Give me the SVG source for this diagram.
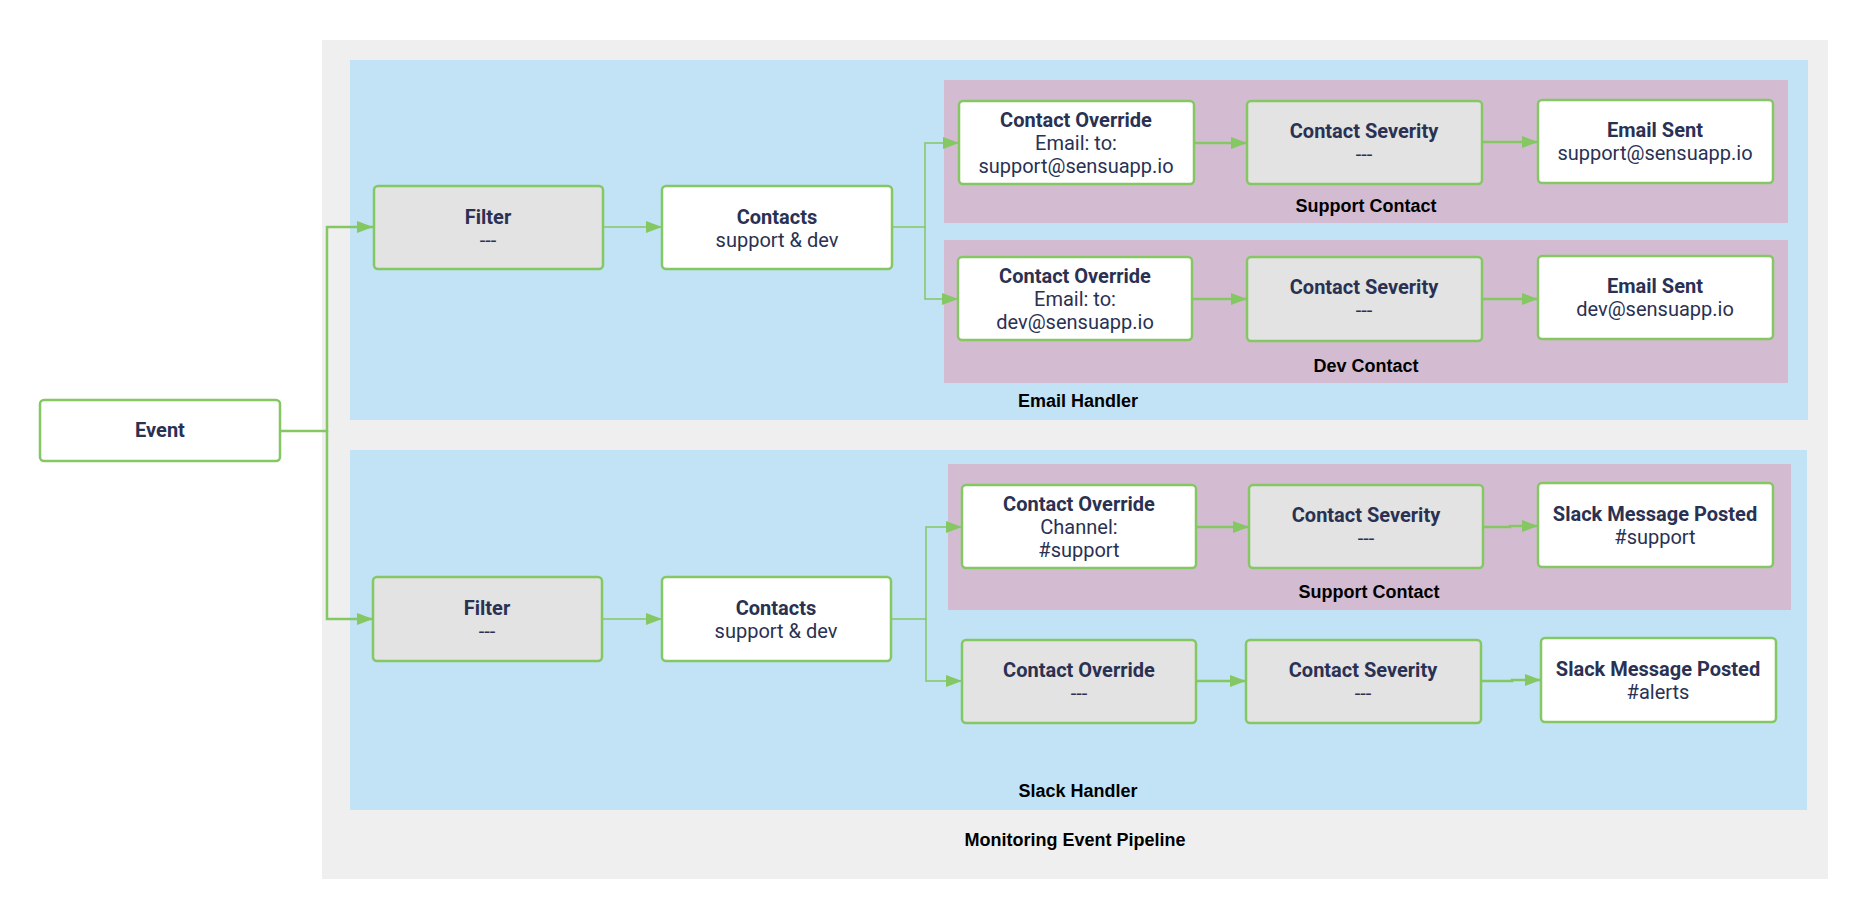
<svg xmlns="http://www.w3.org/2000/svg" width="1868" height="920" viewBox="0 0 1868 920">
<defs>
<style>
.grp{font-family:"Liberation Sans",Arial,sans-serif;font-weight:bold;font-size:18px;fill:#000;text-anchor:middle}
.node rect{stroke:#84c763;stroke-width:2.5}
.w{fill:#ffffff}
.g{fill:#e3e3e3}
.t{font-family:Roboto,"Liberation Sans",sans-serif;font-size:20px;fill:#2a3152;text-anchor:middle}
.b{font-weight:bold}
.c{fill:none;stroke:#84c763}
.thick{stroke-width:2.5}
.thin{stroke-width:1.5}
</style>
<marker id="arr" viewBox="0 0 16 12" refX="16" refY="6" markerWidth="16" markerHeight="12" markerUnits="userSpaceOnUse" orient="auto">
<path d="M0,0 L16,6 L0,12 Z" fill="#84c763"/>
</marker>
</defs>
<rect width="1868" height="920" fill="#ffffff"/>
<g id="clusters">
<rect x="322" y="40" width="1506" height="839" fill="#efefef"/>
<text class="grp" x="1075" y="846">Monitoring Event Pipeline</text>
<rect x="350" y="60" width="1458" height="360" fill="#c1e3f5"/>
<text class="grp" x="1078" y="407">Email Handler</text>
<rect x="350" y="450" width="1457" height="360" fill="#c1e3f5"/>
<text class="grp" x="1078" y="797">Slack Handler</text>
<rect x="944" y="80" width="844" height="143" fill="#d3bcd2"/>
<text class="grp" x="1366" y="212">Support Contact</text>
<rect x="944" y="240" width="844" height="143" fill="#d3bcd2"/>
<text class="grp" x="1366" y="372">Dev Contact</text>
<rect x="948" y="464" width="843" height="146" fill="#d3bcd2"/>
<text class="grp" x="1369" y="598">Support Contact</text>
</g>
<g id="connectors">
<path class="c thick" d="M280,431 H327 V227 H373" marker-end="url(#arr)"/>
<path class="c thick" d="M327,431 V619 H373" marker-end="url(#arr)"/>
<path class="c thin" d="M603,227 H662" marker-end="url(#arr)"/>
<path class="c thin" d="M602,619 H662" marker-end="url(#arr)"/>
<path class="c thin" d="M892,227 H925 V143 H959" marker-end="url(#arr)"/>
<path class="c thin" d="M925,227 V299 H958" marker-end="url(#arr)"/>
<path class="c thin" d="M891,619 H926 V527 H962" marker-end="url(#arr)"/>
<path class="c thin" d="M926,619 V681 H962" marker-end="url(#arr)"/>
<path class="c thick" d="M1194,143 H1247" marker-end="url(#arr)"/>
<path class="c thick" d="M1482,142 H1538" marker-end="url(#arr)"/>
<path class="c thick" d="M1192,299 H1247" marker-end="url(#arr)"/>
<path class="c thick" d="M1482,299 H1538" marker-end="url(#arr)"/>
<path class="c thick" d="M1196,527 H1249" marker-end="url(#arr)"/>
<path class="c thick" d="M1483,527 H1510 V526 H1538" marker-end="url(#arr)"/>
<path class="c thick" d="M1196,681 H1246" marker-end="url(#arr)"/>
<path class="c thick" d="M1481,681 H1512 V680 H1541" marker-end="url(#arr)"/>
</g>
<g id="event" class="node"><rect class="w" x="40" y="400" width="240" height="61" rx="4"/><text class="t b" x="160" y="437">Event</text></g>
<g id="filter-email" class="node"><rect class="g" x="374" y="186" width="229" height="83" rx="4"/><text class="t b" x="488" y="224">Filter</text><text class="t" x="488" y="247">---</text></g>
<g id="contacts-email" class="node"><rect class="w" x="662" y="186" width="230" height="83" rx="4"/><text class="t b" x="777" y="224">Contacts</text><text class="t" x="777" y="247">support &amp; dev</text></g>
<g id="override-support-email" class="node"><rect class="w" x="959" y="101" width="235" height="83" rx="4"/><text class="t b" x="1076" y="127">Contact Override</text><text class="t" x="1076" y="150">Email: to:</text><text class="t" x="1076" y="173">support@sensuapp.io</text></g>
<g id="severity-support-email" class="node"><rect class="g" x="1247" y="101" width="235" height="83" rx="4"/><text class="t b" x="1364" y="138">Contact Severity</text><text class="t" x="1364" y="161">---</text></g>
<g id="email-sent-support" class="node"><rect class="w" x="1538" y="100" width="235" height="83" rx="4"/><text class="t b" x="1655" y="137">Email Sent</text><text class="t" x="1655" y="160">support@sensuapp.io</text></g>
<g id="override-dev-email" class="node"><rect class="w" x="958" y="257" width="234" height="83" rx="4"/><text class="t b" x="1075" y="283">Contact Override</text><text class="t" x="1075" y="306">Email: to:</text><text class="t" x="1075" y="329">dev@sensuapp.io</text></g>
<g id="severity-dev-email" class="node"><rect class="g" x="1247" y="257" width="235" height="84" rx="4"/><text class="t b" x="1364" y="294">Contact Severity</text><text class="t" x="1364" y="317">---</text></g>
<g id="email-sent-dev" class="node"><rect class="w" x="1538" y="256" width="235" height="83" rx="4"/><text class="t b" x="1655" y="293">Email Sent</text><text class="t" x="1655" y="316">dev@sensuapp.io</text></g>
<g id="filter-slack" class="node"><rect class="g" x="373" y="577" width="229" height="84" rx="4"/><text class="t b" x="487" y="615">Filter</text><text class="t" x="487" y="638">---</text></g>
<g id="contacts-slack" class="node"><rect class="w" x="662" y="577" width="229" height="84" rx="4"/><text class="t b" x="776" y="615">Contacts</text><text class="t" x="776" y="638">support &amp; dev</text></g>
<g id="override-support-slack" class="node"><rect class="w" x="962" y="485" width="234" height="83" rx="4"/><text class="t b" x="1079" y="511">Contact Override</text><text class="t" x="1079" y="534">Channel:</text><text class="t" x="1079" y="557">#support</text></g>
<g id="severity-support-slack" class="node"><rect class="g" x="1249" y="485" width="234" height="83" rx="4"/><text class="t b" x="1366" y="522">Contact Severity</text><text class="t" x="1366" y="545">---</text></g>
<g id="slack-posted-support" class="node"><rect class="w" x="1538" y="483" width="235" height="84" rx="4"/><text class="t b" x="1655" y="521">Slack Message Posted</text><text class="t" x="1655" y="544">#support</text></g>
<g id="override-default-slack" class="node"><rect class="g" x="962" y="640" width="234" height="83" rx="4"/><text class="t b" x="1079" y="677">Contact Override</text><text class="t" x="1079" y="700">---</text></g>
<g id="severity-default-slack" class="node"><rect class="g" x="1246" y="640" width="235" height="83" rx="4"/><text class="t b" x="1363" y="677">Contact Severity</text><text class="t" x="1363" y="700">---</text></g>
<g id="slack-posted-alerts" class="node"><rect class="w" x="1541" y="638" width="235" height="84" rx="4"/><text class="t b" x="1658" y="676">Slack Message Posted</text><text class="t" x="1658" y="699">#alerts</text></g>
</svg>
